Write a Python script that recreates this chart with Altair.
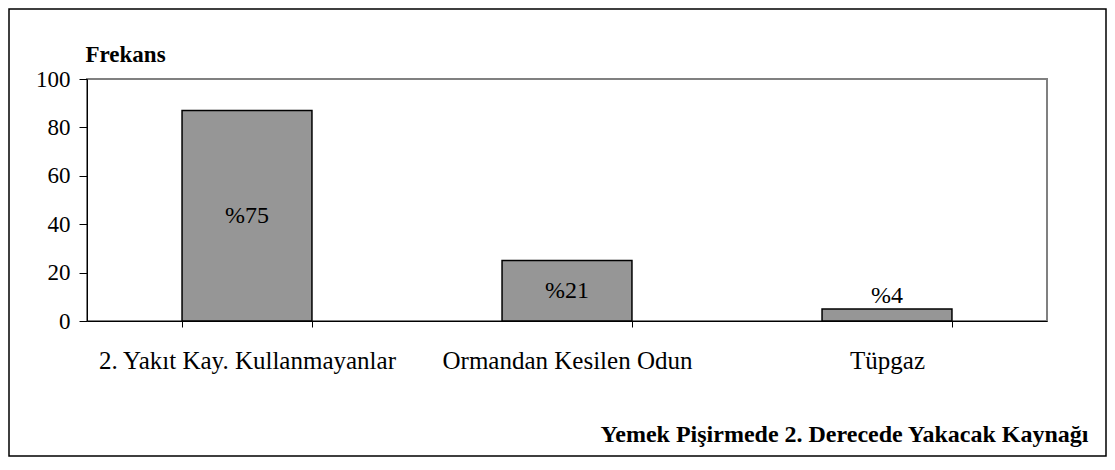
import altair as alt
import pandas as pd

categories = ["2. Yakıt Kay. Kullanmayanlar", "Ormandan Kesilen Odun", "Tüpgaz"]
frequencies = [87, 25, 5]
percent_labels = ["%75", "%21", "%4"]
y_ticks = [0, 20, 40, 60, 80, 100]
y_title = "Frekans"
x_title = "Yemek Pişirmede 2. Derecede Yakacak Kaynağı"

df = pd.DataFrame({"cat": categories, "freq": frequencies, "lab": percent_labels})

FONT = "Liberation Serif"

x_axis = alt.Axis(
    title=x_title,
    labelAngle=0,
    labelFont=FONT,
    labelFontSize=25,
    labelColor="black",
    labelBaseline="alphabetic",
    labelPadding=41,
    labelLimit=500,
    tickSize=6,
    tickBand="extent",
    tickColor="black",
    domainColor="black",
    titleFont=FONT,
    titleFontSize=24,
    titleFontWeight="bold",
    titleColor="black",
    titleAlign="right",
    titleBaseline="alphabetic",
    titleX=1001,
    titleY=120,
)

y_axis = alt.Axis(
    values=y_ticks,
    title=y_title,
    labelFont=FONT,
    labelFontSize=23,
    labelColor="black",
    labelPadding=9,
    tickSize=8,
    tickColor="black",
    domainColor="black",
    titleFont=FONT,
    titleFontSize=23,
    titleFontWeight="bold",
    titleColor="black",
    titleAngle=0,
    titleAlign="left",
    titleBaseline="alphabetic",
    titleX=-2,
    titleY=-18,
)

x_scale = alt.Scale(paddingInner=0.594, paddingOuter=0.297)
y_scale = alt.Scale(domain=[0, 100], nice=False)

x_enc = alt.X("cat:N", sort=categories, scale=x_scale, axis=x_axis)

base = alt.Chart(df)

bars = base.mark_bar(fill="#969696", stroke="black", strokeWidth=1.5).encode(
    x=x_enc, y=alt.Y("freq:Q", scale=y_scale, axis=y_axis)
)

inside = (
    base.transform_filter("datum.freq > 10")
    .transform_calculate(mid="datum.freq / 2")
    .mark_text(font=FONT, fontSize=24, color="black", baseline="middle")
    .encode(x=x_enc, y=alt.Y("mid:Q", scale=y_scale, axis=y_axis), text="lab:N")
)

outside = (
    base.transform_filter("datum.freq <= 10")
    .mark_text(font=FONT, fontSize=24, color="black", baseline="alphabetic", dy=-6)
    .encode(x=x_enc, y=alt.Y("freq:Q", scale=y_scale, axis=y_axis), text="lab:N")
)

border = (
    alt.Chart(pd.DataFrame({"k": [0]}))
    .mark_rect(fillOpacity=0, stroke="black", strokeWidth=1.5)
    .encode(
        x=alt.value(-78),
        x2=alt.value(1019),
        y=alt.value(-70),
        y2=alt.value(377),
    )
)

chart = (
    alt.layer(bars, inside, outside, border)
    .properties(
        width=960,
        height=242,
        autosize=alt.AutoSizeParams(type="none"),
        padding={"left": 79, "top": 71, "right": 60, "bottom": 137},
        background="white",
    )
    .configure(font=FONT)
    .configure_view(stroke="#808080", strokeWidth=2)
    .configure_axis(grid=False, labelFont=FONT, titleFont=FONT)
    .configure_text(font=FONT)
)

chart.save("out.html", embed_options={"renderer": "svg", "actions": False})
